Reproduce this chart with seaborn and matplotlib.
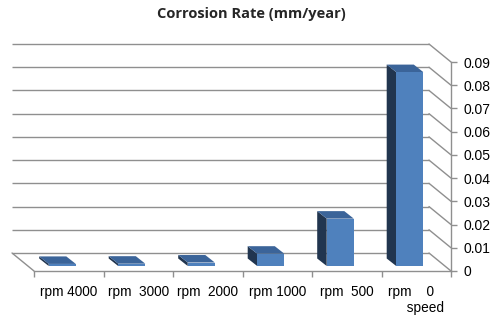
import matplotlib
matplotlib.use("Agg")
import matplotlib.pyplot as plt
from matplotlib.patches import Polygon
import seaborn as sns
import pandas as pd

# ---- data ----
categories = ["rpm 4000", "rpm  3000", "rpm  2000", "rpm 1000", "rpm  500", "rpm    0\n     speed"]
rates = [0.0009, 0.0010, 0.0015, 0.0053, 0.0204, 0.0835]
y_ticks = [0, 0.01, 0.02, 0.03, 0.04, 0.05, 0.06, 0.07, 0.08, 0.09]
y_tick_labels = ["0", "0.01", "0.02", "0.03", "0.04", "0.05", "0.06", "0.07", "0.08", "0.09"]
title = "Corrosion Rate (mm/year)"

sns.set_theme(style="white")
plt.rcParams['font.family'] = ['Liberation Sans', 'DejaVu Sans']

W, H = 501, 323
fig = plt.figure(figsize=(W / 100, H / 100), dpi=100)
fig.patch.set_facecolor("white")
ax = fig.add_axes([34 / W, (H - 271) / H, (451 - 34) / W, (271 - 62) / H])

df = pd.DataFrame({"cat": categories, "rate": rates})
sns.barplot(data=df, x="cat", y="rate", order=categories, width=0.39,
            color="#4f81bd", saturation=1, ax=ax, zorder=5, linewidth=0)

ax.set_xlim(-0.5, len(categories) - 0.5)
ax.set_ylim(0, 0.09)
ax.set_xlabel("")
ax.set_ylabel("")

# pixel -> data conversion
bbox = ax.get_position()
ax_w_px = bbox.width * W
ax_h_px = bbox.height * H
ppx = ax_w_px / (len(categories))
ppy = ax_h_px / 0.09


def px(dx, dy):
    return dx / ppx, dy / ppy


grid_col = "#8f8f8f"
bdx, bdy = px(-22, 18)
xl, xr = -0.5, len(categories) - 0.5
for v in y_ticks:
    ax.plot([xl + bdx, xr + bdx], [v + bdy, v + bdy], color=grid_col, lw=1,
            clip_on=False, zorder=1, solid_capstyle="butt")
    ax.plot([xr + bdx, xr], [v + bdy, v], color=grid_col, lw=1, clip_on=False, zorder=1)
# left floor edge
ax.plot([xl + bdx, xl], [bdy, 0], color=grid_col, lw=1, clip_on=False, zorder=1)

# bars: move front face to mid depth, add side and top faces
fdx, fdy = px(-6.5, 5)
ddx, ddy = px(-9.5, 7.5)
for p in ax.patches[:len(categories)]:
    p.set_x(p.get_x() + fdx)
    p.set_y(p.get_y() + fdy)
    p.set_clip_on(False)
    x0, y0, w, h = p.get_x(), p.get_y(), p.get_width(), p.get_height()
    side = Polygon([(x0, y0), (x0, y0 + h), (x0 + ddx, y0 + h + ddy), (x0 + ddx, y0 + ddy)],
                   closed=True, facecolor="#21354f", edgecolor="none", zorder=4, clip_on=False)
    top = Polygon([(x0, y0 + h), (x0 + w, y0 + h), (x0 + w + ddx, y0 + h + ddy), (x0 + ddx, y0 + h + ddy)],
                  closed=True, facecolor="#3b6499", edgecolor="none", zorder=4, clip_on=False)
    ax.add_patch(side)
    ax.add_patch(top)

# spines
for s in ["top", "left"]:
    ax.spines[s].set_visible(False)
for s in ["bottom", "right"]:
    ax.spines[s].set_color(grid_col)
    ax.spines[s].set_linewidth(1)
    ax.spines[s].set_zorder(2)

# y axis on right
ax.yaxis.tick_right()
ax.set_yticks(y_ticks)
ax.set_yticklabels(y_tick_labels)
ax.tick_params(axis="y", which="major", right=True, left=False, length=4, width=1,
               color=grid_col, labelsize=10, pad=5, labelcolor="black")

# x axis: ticks at boundaries, labels at centres
ax.set_xticks([i - 0.5 for i in range(len(categories) + 1)])
ax.set_xticklabels([])
ax.set_xticks(list(range(len(categories))), minor=True)
ax.set_xticklabels(categories, minor=True, multialignment="left")
ax.tick_params(axis="x", which="major", bottom=True, length=4, width=1, color=grid_col)
ax.tick_params(axis="x", which="minor", bottom=False, length=0, labelsize=9.8, pad=10,
               labelcolor="black")
ax.grid(False)
ax.set_facecolor("none")

fig.text(251.5 / W, 1 - 14 / H, title, ha="center", va="center",
         fontsize=10.5, fontweight="bold", family=["Open Sans", "DejaVu Sans"])

fig.savefig("out.png", dpi=100, facecolor="white")
